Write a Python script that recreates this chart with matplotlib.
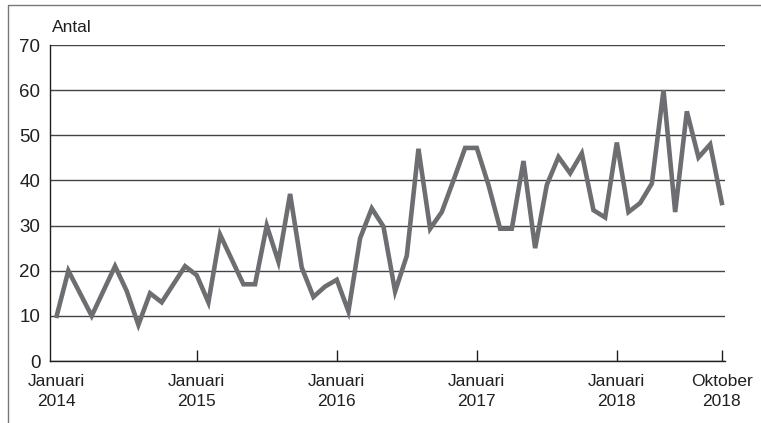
import numpy as np
import matplotlib.pyplot as plt
from matplotlib.lines import Line2D

plt.rcParams['font.family'] = ['Liberation Sans', 'DejaVu Sans']

# Antal per månad, januari 2014 - oktober 2018
antal_2014 = [10, 20, 15, 10, 15.5, 21, 15.5, 8, 15, 13, 17, 21]
antal_2015 = [19, 13, 28, 22.5, 17, 17, 30, 22, 37, 20.7, 14.2, 16.5]
antal_2016 = [18, 11, 27.2, 33.8, 29.8, 15.4, 23.3, 47, 29.3, 33, 40, 47.2]
antal_2017 = [47.2, 39, 29.3, 29.3, 44.3, 25, 39, 45.2, 41.6, 46, 33.4, 31.8]
antal_2018 = [48.4, 33, 35, 39.3, 60, 33, 55.3, 45.1, 48, 35]

antal = antal_2014 + antal_2015 + antal_2016 + antal_2017 + antal_2018
manad = np.arange(len(antal))

tick_pos = [0, 12, 24, 36, 48, 57]
tick_labels = ['Januari\n2014', 'Januari\n2015', 'Januari\n2016',
               'Januari\n2017', 'Januari\n2018', 'Oktober\n2018']

textfarg = '#231f20'
linjefarg = '#6d6e71'

fig = plt.figure(figsize=(7.61, 4.23), dpi=100)
ax = fig.add_axes([50 / 761, 1 - 361 / 423, 675 / 761, 316 / 423])

ax.plot(manad, antal, color=linjefarg, lw=3.3, solid_joinstyle='miter', zorder=3)

ax.set_xlim(-0.574, 57.27)
ax.set_ylim(0, 70)
ax.set_yticks(range(0, 71, 10))
ax.yaxis.grid(True, color='#444444', lw=1.0)
ax.tick_params(axis='y', length=0, pad=7, labelsize=13.5, labelcolor=textfarg)

ax.set_xticks(tick_pos)
ax.set_xticklabels(tick_labels, linespacing=1.45)
ax.tick_params(axis='x', direction='in', length=8, width=1, color=textfarg,
               pad=9, labelsize=12.5, labelcolor=textfarg)
ax.xaxis.get_major_ticks()[0].tick1line.set_visible(False)

for s in ['top', 'right']:
    ax.spines[s].set_visible(False)
for s in ['left', 'bottom']:
    ax.spines[s].set_color(textfarg)
    ax.spines[s].set_linewidth(1.0)

fig.text(52 / 761, 1 - 28 / 423, 'Antal', fontsize=12.5, color=textfarg,
         ha='left', va='center')

# ram runt figuren (vänster och överkant)
fig.add_artist(Line2D([8 / 761, 8 / 761, 1], [0, 1 - 5 / 423, 1 - 5 / 423],
                      transform=fig.transFigure, color='#777777', lw=1.0))

fig.savefig('out.png', dpi=100)
